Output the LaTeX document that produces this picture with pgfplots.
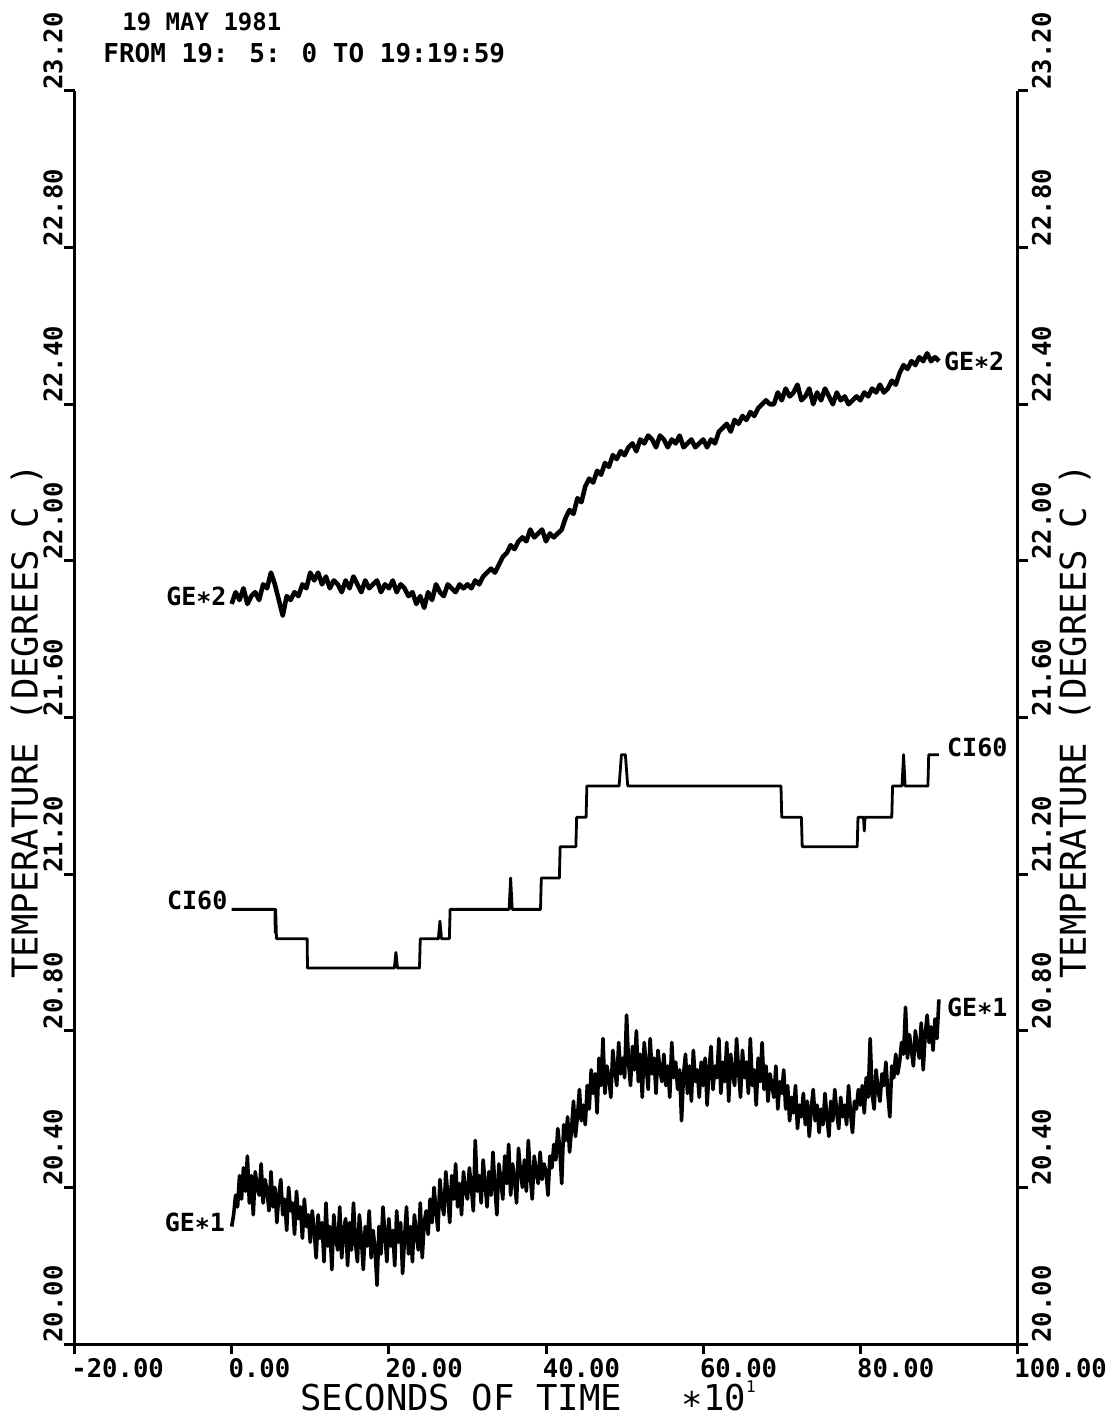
\documentclass[border=0pt]{standalone}
\usepackage{pgfplots}
\pgfplotsset{compat=1.18}
\usepackage{fontspec}
\setmainfont{DejaVu Sans Mono}
\newcommand\tickfont{\fontsize{12.8}{13}\selectfont\bfseries}
\newcommand\labfont{\fontsize{17.8}{19}\selectfont}
\newcommand\curvefont{\fontsize{12.5}{13}\selectfont\bfseries}
\newcommand\titlefontA{\fontsize{12}{13}\selectfont\bfseries}
\newcommand\titlefontB{\fontsize{13}{14}\selectfont\bfseries}
\begin{document}
\begin{tikzpicture}
\begin{axis}[
  at={(0,0)}, anchor=south west,
  scale only axis, width=471.5pt, height=626.5pt,
  xmin=-20, xmax=100, ymin=20, ymax=23.2,
  axis x line=bottom, axis y line=box,
  every non boxed x axis/.append style={x axis line style={-}, xtick align=outside},
  axis line style={-, line width=1.5pt},
  every tick/.style={black, line width=1.5pt},
  tick align=outside, major tick length=5pt,
  xtick={-20,0,20,40,60,80,100}, xticklabels={},
  ytick={20,20.4,20.8,21.2,21.6,22,22.4,22.8,23.2}, yticklabels={},
  clip=false,
]
% GE*1
\addplot[black, line width=1.8pt, line join=round] coordinates {
(0,20.30)(0.25,20.33)(0.5,20.38)(0.75,20.35)(1,20.43)(1.25,20.37)(1.5,20.45)(1.75,20.39)(2,20.48)(2.25,20.36)(2.5,20.43)(2.75,20.33)(3,20.44)(3.25,20.40)(3.5,20.38)(3.75,20.46)(4,20.36)(4.25,20.42)(4.5,20.39)(4.75,20.34)
(5,20.44)(5.25,20.35)(5.5,20.40)(5.75,20.31)(6,20.38)(6.25,20.42)(6.5,20.33)(6.75,20.37)(7,20.29)(7.25,20.40)(7.5,20.34)(7.75,20.36)(8,20.28)(8.25,20.39)(8.5,20.32)(8.75,20.35)(9,20.27)(9.25,20.37)(9.5,20.30)(9.75,20.33)
(10,20.26)(10.25,20.34)(10.5,20.29)(10.75,20.22)(11,20.33)(11.25,20.27)(11.5,20.31)(11.75,20.21)(12,20.36)(12.25,20.25)(12.5,20.30)(12.75,20.19)(13,20.33)(13.25,20.27)(13.5,20.24)(13.75,20.35)(14,20.22)(14.25,20.29)(14.5,20.32)(14.75,20.20)
(15,20.31)(15.25,20.24)(15.5,20.36)(15.75,20.26)(16,20.21)(16.25,20.33)(16.5,20.27)(16.75,20.19)(17,20.30)(17.25,20.25)(17.5,20.34)(17.75,20.22)(18,20.29)(18.25,20.24)(18.5,20.15)(18.75,20.30)(19,20.23)(19.25,20.35)(19.5,20.28)(19.75,20.21)
(20,20.32)(20.25,20.25)(20.5,20.29)(20.75,20.20)(21,20.34)(21.25,20.26)(21.5,20.31)(21.75,20.18)(22,20.27)(22.25,20.35)(22.5,20.23)(22.75,20.30)(23,20.21)(23.25,20.33)(23.5,20.28)(23.75,20.24)(24,20.36)(24.25,20.22)(24.5,20.31)(24.75,20.34)
(25,20.28)(25.25,20.37)(25.5,20.31)(25.75,20.40)(26,20.34)(26.25,20.29)(26.5,20.42)(26.75,20.36)(27,20.33)(27.25,20.44)(27.5,20.38)(27.75,20.31)(28,20.43)(28.25,20.37)(28.5,20.46)(28.75,20.35)(29,20.41)(29.25,20.33)(29.5,20.44)(29.75,20.39)
(30,20.37)(30.25,20.45)(30.5,20.40)(30.75,20.34)(31,20.52)(31.25,20.39)(31.5,20.43)(31.75,20.36)(32,20.47)(32.25,20.41)(32.5,20.35)(32.75,20.44)(33,20.38)(33.25,20.49)(33.5,20.40)(33.75,20.33)(34,20.46)(34.25,20.42)(34.5,20.37)(34.75,20.48)
(35,20.41)(35.25,20.51)(35.5,20.38)(35.75,20.46)(36,20.42)(36.25,20.36)(36.5,20.50)(36.75,20.44)(37,20.40)(37.25,20.47)(37.5,20.39)(37.75,20.52)(38,20.43)(38.25,20.37)(38.5,20.48)(38.75,20.44)(39,20.41)(39.25,20.49)(39.5,20.42)(39.75,20.46)
(40,20.44)(40.25,20.38)(40.5,20.48)(40.75,20.45)(41,20.51)(41.25,20.47)(41.5,20.55)(41.75,20.50)(42,20.41)(42.25,20.56)(42.5,20.52)(42.75,20.58)(43,20.49)(43.25,20.55)(43.5,20.62)(43.75,20.53)(44,20.58)(44.25,20.65)(44.5,20.57)(44.75,20.61)
(45,20.56)(45.25,20.66)(45.5,20.60)(45.75,20.70)(46,20.64)(46.25,20.69)(46.5,20.59)(46.75,20.73)(47,20.66)(47.25,20.78)(47.5,20.64)(47.75,20.71)(48,20.68)(48.25,20.63)(48.5,20.75)(48.75,20.70)(49,20.66)(49.25,20.77)(49.5,20.69)(49.75,20.73)
(50,20.68)(50.25,20.84)(50.5,20.72)(50.75,20.66)(51,20.76)(51.25,20.70)(51.5,20.80)(51.75,20.67)(52,20.74)(52.25,20.63)(52.5,20.77)(52.75,20.71)(53,20.65)(53.25,20.78)(53.5,20.69)(53.75,20.73)(54,20.64)(54.25,20.75)(54.5,20.70)(54.75,20.67)
(55,20.74)(55.25,20.66)(55.5,20.71)(55.75,20.63)(56,20.77)(56.25,20.68)(56.5,20.72)(56.75,20.65)(57,20.70)(57.25,20.57)(57.5,20.69)(57.75,20.74)(58,20.64)(58.25,20.71)(58.5,20.62)(58.75,20.75)(59,20.67)(59.25,20.70)(59.5,20.63)(59.75,20.72)
(60,20.66)(60.25,20.73)(60.5,20.61)(60.75,20.70)(61,20.76)(61.25,20.65)(61.5,20.71)(61.75,20.68)(62,20.78)(62.25,20.64)(62.5,20.72)(62.75,20.67)(63,20.77)(63.25,20.62)(63.5,20.74)(63.75,20.69)(64,20.66)(64.25,20.78)(64.5,20.70)(64.75,20.63)
(65,20.75)(65.25,20.68)(65.5,20.72)(65.75,20.64)(66,20.78)(66.25,20.66)(66.5,20.70)(66.75,20.61)(67,20.73)(67.25,20.67)(67.5,20.77)(67.75,20.65)(68,20.71)(68.25,20.62)(68.5,20.69)(68.75,20.66)(69,20.63)(69.25,20.71)(69.5,20.60)(69.75,20.67)
(70,20.64)(70.25,20.70)(70.5,20.60)(70.75,20.66)(71,20.57)(71.25,20.63)(71.5,20.59)(71.75,20.66)(72,20.55)(72.25,20.61)(72.5,20.58)(72.75,20.64)(73,20.56)(73.25,20.62)(73.5,20.53)(73.75,20.60)(74,20.65)(74.25,20.57)(74.5,20.61)(74.75,20.54)
(75,20.60)(75.25,20.56)(75.5,20.64)(75.75,20.58)(76,20.53)(76.25,20.62)(76.5,20.57)(76.75,20.65)(77,20.59)(77.25,20.55)(77.5,20.63)(77.75,20.58)(78,20.61)(78.25,20.56)(78.5,20.66)(78.75,20.59)(79,20.54)(79.25,20.62)(79.5,20.60)(79.75,20.65)
(80,20.61)(80.25,20.66)(80.5,20.59)(80.75,20.68)(81,20.63)(81.25,20.78)(81.5,20.64)(81.75,20.60)(82,20.70)(82.25,20.65)(82.5,20.62)(82.75,20.69)(83,20.66)(83.25,20.72)(83.5,20.64)(83.75,20.58)(84,20.71)(84.25,20.68)(84.5,20.74)(84.75,20.69)
(85,20.72)(85.25,20.77)(85.5,20.74)(85.75,20.86)(86,20.73)(86.25,20.79)(86.5,20.75)(86.75,20.71)(87,20.80)(87.25,20.76)(87.5,20.73)(87.75,20.82)(88,20.70)(88.25,20.79)(88.5,20.84)(88.75,20.77)(89,20.81)(89.25,20.75)(89.5,20.83)(89.75,20.78)
(90,20.88)
};
% GE*2
\addplot[black, line width=2.3pt, line join=round] coordinates {
(0,21.89)(0.5,21.92)(1,21.90)(1.5,21.93)(2,21.89)(2.5,21.91)(3,21.92)(3.5,21.90)(4,21.94)(4.5,21.93)(5,21.97)(5.5,21.94)(6,21.90)(6.5,21.86)(7,21.91)(7.5,21.90)(8,21.92)(8.5,21.91)(9,21.94)(9.5,21.93)
(10,21.97)(10.5,21.95)(11,21.97)(11.5,21.94)(12,21.96)(12.5,21.93)(13,21.95)(13.5,21.94)(14,21.92)(14.5,21.95)(15,21.93)(15.5,21.96)(16,21.94)(16.5,21.92)(17,21.95)(17.5,21.93)(18,21.94)(18.5,21.95)(19,21.92)(19.5,21.94)
(20,21.93)(20.5,21.95)(21,21.92)(21.5,21.94)(22,21.93)(22.5,21.91)(23,21.92)(23.5,21.89)(24,21.91)(24.5,21.88)(25,21.92)(25.5,21.90)(26,21.94)(26.5,21.92)(27,21.91)(27.5,21.94)(28,21.93)(28.5,21.92)(29,21.94)(29.5,21.93)
(30,21.94)(30.5,21.93)(31,21.95)(31.5,21.94)(32,21.96)(32.5,21.97)(33,21.98)(33.5,21.97)(34,21.99)(34.5,22.01)(35,22.02)(35.5,22.04)(36,22.03)(36.5,22.05)(37,22.06)(37.5,22.05)(38,22.08)(38.5,22.06)(39,22.07)(39.5,22.08)
(40,22.05)(40.5,22.07)(41,22.06)(41.5,22.07)(42,22.08)(42.5,22.11)(43,22.13)(43.5,22.12)(44,22.16)(44.5,22.15)(45,22.19)(45.5,22.21)(46,22.20)(46.5,22.23)(47,22.22)(47.5,22.25)(48,22.24)(48.5,22.27)(49,22.26)(49.5,22.28)
(50,22.27)(50.5,22.29)(51,22.30)(51.5,22.28)(52,22.31)(52.5,22.30)(53,22.32)(53.5,22.31)(54,22.29)(54.5,22.32)(55,22.31)(55.5,22.29)(56,22.31)(56.5,22.30)(57,22.32)(57.5,22.29)(58,22.30)(58.5,22.31)(59,22.29)(59.5,22.30)
(60,22.31)(60.5,22.29)(61,22.31)(61.5,22.30)(62,22.33)(62.5,22.34)(63,22.35)(63.5,22.33)(64,22.36)(64.5,22.35)(65,22.37)(65.5,22.36)(66,22.38)(66.5,22.37)(67,22.39)(67.5,22.40)(68,22.41)(68.5,22.40)(69,22.40)(69.5,22.43)
(70,22.41)(70.5,22.44)(71,22.42)(71.5,22.43)(72,22.45)(72.5,22.41)(73,22.42)(73.5,22.44)(74,22.40)(74.5,22.43)(75,22.41)(75.5,22.44)(76,22.42)(76.5,22.40)(77,22.43)(77.5,22.41)(78,22.42)(78.5,22.40)(79,22.41)(79.5,22.42)
(80,22.41)(80.5,22.43)(81,22.42)(81.5,22.44)(82,22.43)(82.5,22.45)(83,22.43)(83.5,22.44)(84,22.46)(84.5,22.45)(85,22.48)(85.5,22.50)(86,22.49)(86.5,22.51)(87,22.50)(87.5,22.52)(88,22.51)(88.5,22.53)(89,22.51)(89.5,22.52)
(90,22.51)
};
% CI60
\addplot[black, line width=1.4pt, line join=round] coordinates {
(0,21.11)(5.5,21.11)(5.55,21.05)(5.6,21.11)(5.7,21.035)(9.6,21.035)(9.65,20.96)(20.7,20.96)(20.9,21.0)(21.1,20.96)(23.9,20.96)(24.0,21.035)(26.3,21.035)(26.5,21.08)(26.7,21.035)(27.7,21.035)(27.8,21.11)(35.3,21.11)(35.5,21.19)(35.7,21.11)(39.3,21.11)(39.4,21.19)(41.7,21.19)(41.8,21.27)(43.8,21.27)(43.9,21.345)(45.1,21.345)(45.2,21.425)(49.3,21.425)(49.6,21.505)(50.1,21.505)(50.4,21.425)(69.9,21.425)(70.0,21.345)(72.5,21.345)(72.6,21.27)(79.6,21.27)(79.7,21.345)(80.4,21.345)(80.5,21.31)(80.6,21.345)(84.0,21.345)(84.1,21.425)(85.3,21.425)(85.5,21.505)(85.7,21.425)(88.6,21.425)(88.7,21.505)(90.0,21.505)
};
% tick labels
\pgfplotsinvokeforeach{20.00,20.40,20.80,21.20,21.60,22.00,22.40,22.80,23.20}{
  \node[rotate=90, anchor=base west, inner sep=0pt, font=\tickfont] at ([xshift=-6pt,yshift=0.5pt]axis cs:-20,#1) {#1};
  \node[rotate=90, anchor=north west, inner sep=0pt, font=\tickfont] at ([xshift=7pt,yshift=0.5pt]axis cs:100,#1) {#1};
}
\pgfplotsinvokeforeach{-20.00,0.00,20.00,40.00,60.00,80.00,100.00}{
  \node[anchor=base west, inner sep=0pt, font=\tickfont] at ([xshift=-1.75pt,yshift=-16.5pt]axis cs:#1,20) {#1};
}
% axis labels
\node[rotate=90, anchor=base, inner sep=0pt, font=\labfont] at ([xshift=-18.5pt]axis cs:-20,21.59) {TEMPERATURE (DEGREES C )};
\node[rotate=90, anchor=north, inner sep=0pt, font=\labfont] at ([xshift=20.5pt]axis cs:100,21.59) {TEMPERATURE (DEGREES C )};
\node[anchor=base west, inner sep=0pt, font=\labfont] at ([xshift=112.75pt,yshift=-33pt]axis cs:-20,20) {SECONDS OF TIME\hspace*{30pt}∗10\raisebox{9pt}{\fontsize{8}{8}\selectfont 1}};
% title
\node[anchor=base west, inner sep=0pt, font=\titlefontA] at ([xshift=23.75pt,yshift=30pt]axis cs:-20,23.2) {19 MAY 1981};
\node[anchor=base west, inner sep=0pt, font=\titlefontB] at ([xshift=14.25pt,yshift=14pt]axis cs:-20,23.2) {FROM 19: 5: 0 TO 19:19:59};
% curve labels
\node[anchor=east, inner sep=0pt, font=\curvefont] at (axis cs:-0.6,21.91) {GE∗2};
\node[anchor=west, inner sep=0pt, font=\curvefont] at (axis cs:90.6,22.51) {GE∗2};
\node[anchor=base east, inner sep=0pt, font=\curvefont] at (axis cs:-0.5,21.11) {CI60};
\node[anchor=base west, inner sep=0pt, font=\curvefont] at (axis cs:91.0,21.50) {CI60};
\node[anchor=east, inner sep=0pt, font=\curvefont] at (axis cs:-0.8,20.31) {GE∗1};
\node[anchor=west, inner sep=0pt, font=\curvefont] at (axis cs:91.0,20.86) {GE∗1};
\end{axis}
\pgfresetboundingbox
\useasboundingbox (-37.25pt,-36pt) rectangle (521.25pt,672pt);
\end{tikzpicture}
\end{document}
